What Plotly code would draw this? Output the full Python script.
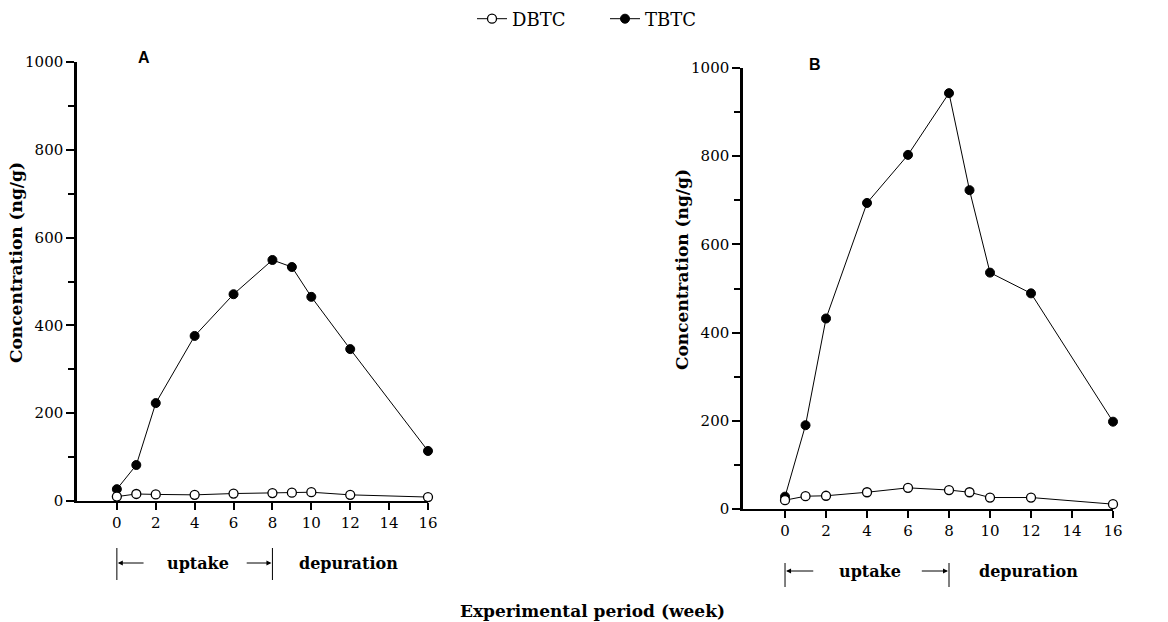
import plotly.graph_objects as go

# Sampling weeks
weeks = [0, 1, 2, 4, 6, 8, 9, 10, 12, 16]

# Panel A concentrations (ng/g)
dbtc_a = [10, 16, 15, 14, 17, 18, 19, 20, 14, 9]
tbtc_a = [27, 82, 223, 376, 471, 549, 533, 465, 346, 114]

# Panel B concentrations (ng/g)
dbtc_b = [20, 29, 30, 38, 48, 43, 38, 26, 26, 11]
tbtc_b = [28, 190, 432, 694, 803, 943, 723, 536, 489, 198]

y_ticks = [0, 200, 400, 600, 800, 1000]
x_ticks = [0, 2, 4, 6, 8, 10, 12, 14, 16]

SERIF = "DejaVu Serif"
W, H = 1168, 622

fig = go.Figure()

panels = [
    ("x", "y", dbtc_a, tbtc_a, True),
    ("x2", "y2", dbtc_b, tbtc_b, False),
]
for xa, ya, dbtc, tbtc, show in panels:
    fig.add_trace(go.Scatter(
        x=weeks, y=tbtc, xaxis=xa, yaxis=ya, name="TBTC",
        mode="lines+markers", cliponaxis=False, showlegend=show, legendrank=2,
        line=dict(color="black", width=1),
        marker=dict(symbol="circle", size=9, color="black",
                    line=dict(color="black", width=1)),
    ))
    fig.add_trace(go.Scatter(
        x=weeks, y=dbtc, xaxis=xa, yaxis=ya, name="DBTC",
        mode="lines+markers", cliponaxis=False, showlegend=show, legendrank=1,
        line=dict(color="black", width=1),
        marker=dict(symbol="circle", size=9, color="white",
                    line=dict(color="black", width=1.3)),
    ))

def px_x(p):
    return p / W

def px_y(p):
    return 1 - p / H

tick_font = dict(family=SERIF, size=15, color="black")

xcommon = dict(
    range=[-2.05, 16], tickvals=x_ticks, ticks="outside", ticklen=7,
    tickwidth=2, tickcolor="black", showline=True, linecolor="black",
    linewidth=2, showgrid=False, zeroline=False, tickfont=tick_font,
    automargin=False,
)
ycommon = dict(
    range=[0, 1000], tickvals=y_ticks, ticks="outside", ticklen=8,
    tickwidth=2, tickcolor="black", showline=True, linecolor="black",
    linewidth=2.5, showgrid=False, zeroline=False, tickfont=tick_font,
    automargin=False,
    minor=dict(dtick=100, tick0=0, ticks="outside", ticklen=6,
               tickwidth=2, tickcolor="black", showgrid=False),
)

fig.update_layout(
    width=W, height=H,
    margin=dict(l=0, r=0, t=0, b=0, pad=0, autoexpand=False),
    paper_bgcolor="white", plot_bgcolor="white",
    xaxis=dict(domain=[px_x(77), px_x(428)], anchor="y", **xcommon),
    yaxis=dict(domain=[px_y(501), px_y(62)], anchor="x", **ycommon),
    xaxis2=dict(domain=[px_x(743), px_x(1113)], anchor="y2", **xcommon),
    yaxis2=dict(domain=[px_y(509), px_y(68)], anchor="x2", **ycommon),
    legend=dict(orientation="h", x=px_x(472), xanchor="left", y=px_y(19),
                yanchor="middle", font=dict(family=SERIF, size=18, color="black"),
                entrywidth=88, entrywidthmode="pixels",
                bgcolor="rgba(0,0,0,0)"),
    showlegend=True,
)

def label(text, x, y, size, xref="paper", angle=0, family=SERIF):
    return dict(text=text, x=x, y=y, xref=xref, yref="paper",
                xanchor="center", yanchor="middle", textangle=angle,
                showarrow=False, font=dict(family=family, size=size, color="black"))

annotations = [
    label("<b>A</b>", px_x(144), px_y(58), 16, family="Liberation Sans"),
    label("<b>B</b>", px_x(815), px_y(65), 16, family="Liberation Sans"),
    label("<b>Concentration (ng/g)</b>", px_x(16), px_y(263), 17, angle=-90),
    label("<b>Concentration (ng/g)</b>", px_x(682), px_y(269), 17, angle=-90),
    label("<b>Experimental period (week)</b>", px_x(592), px_y(611), 17),
]

shapes = []
# Uptake / depuration brackets under each panel
for xref, top, bot, mid in [("x", 548, 580, 563), ("x2", 563, 587, 571)]:
    for wk in (0, 8):
        shapes.append(dict(type="line", xref=xref, yref="paper", x0=wk, x1=wk,
                           y0=px_y(top), y1=px_y(bot),
                           line=dict(color="black", width=1)))
    annotations += [
        label("<b>uptake</b>", 4.15, px_y(mid), 16, xref=xref),
        label("<b>depuration</b>", 11.9, px_y(mid), 16, xref=xref),
        dict(text="", x=0.05, y=px_y(mid), ax=1.45, ay=0, xref=xref,
             yref="paper", axref=xref, ayref="pixel", showarrow=True,
             arrowhead=2, arrowsize=1, arrowwidth=1, arrowcolor="black"),
        dict(text="", x=7.95, y=px_y(mid), ax=6.6, ay=0, xref=xref,
             yref="paper", axref=xref, ayref="pixel", showarrow=True,
             arrowhead=2, arrowsize=1, arrowwidth=1, arrowcolor="black"),
    ]

fig.update_layout(annotations=annotations, shapes=shapes)

fig.write_html("out.html")
